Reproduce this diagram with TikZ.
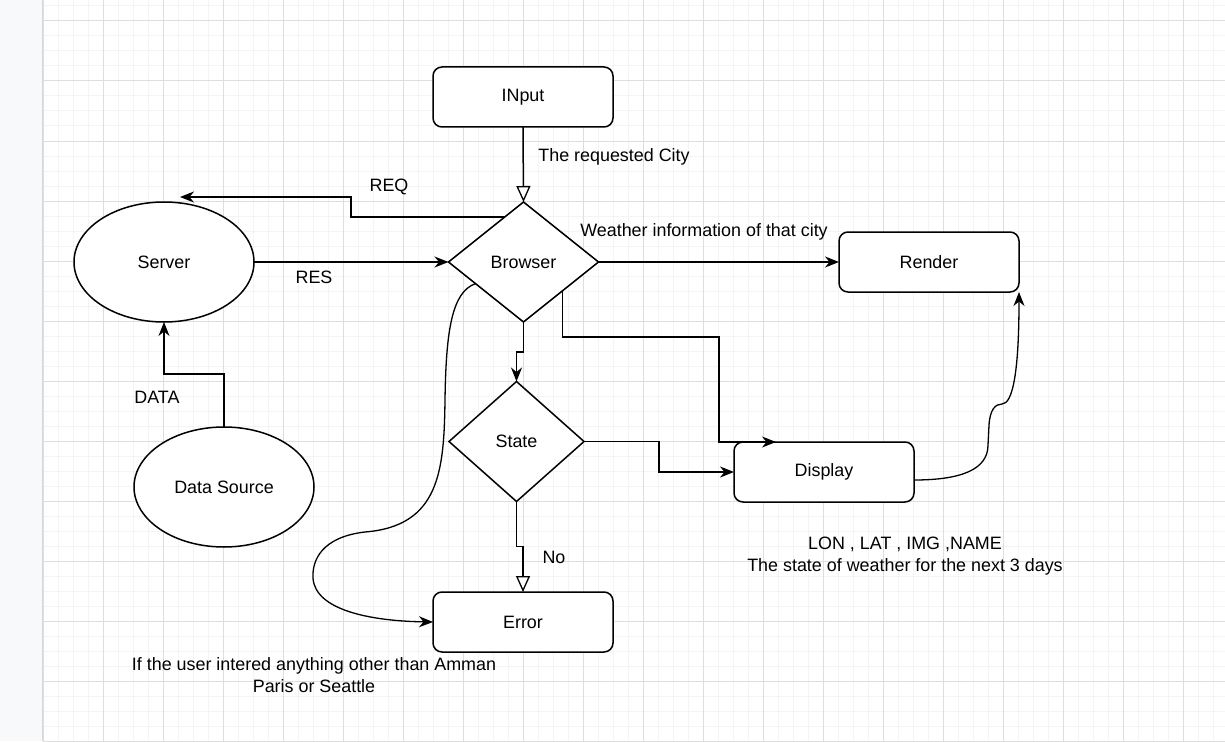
\documentclass[tikz,border=0pt]{standalone}
\usepackage{fontspec}
\setmainfont{Liberation Sans}
\usetikzlibrary{shapes.geometric,arrows.meta,calc}
\definecolor{panel}{HTML}{F8F9FA}
\definecolor{panelline}{HTML}{D6D8DB}
\definecolor{gminor}{HTML}{F4F4F4}
\definecolor{gmajor}{HTML}{DEDEDE}
\tikzset{
  txt/.style={font=\fontsize{17.9}{22}\selectfont, inner sep=0pt, text=black},
  rbox/.style={txt, draw=black, fill=white, line width=1.5pt, rounded corners=9pt,
    minimum width=180pt, minimum height=60pt, outer sep=0pt},
  dia/.style={txt, diamond, draw=black, fill=white, line width=1.5pt, outer sep=0pt},
  ell/.style={txt, ellipse, draw=black, fill=white, line width=1.5pt, outer sep=0pt,
    minimum width=180pt, minimum height=120pt},
  ln/.style={draw=black, line width=1.5pt},
  cv/.style={draw=black, line width=1.3pt},
  farrow/.style={-{Stealth[length=14pt,width=11pt,inset=4.5pt]}},
  oarrow/.style={-{Triangle[length=16pt,width=14pt,fill=white,line width=1.3pt]}},
  lbl/.style={txt, align=center}
}
\begin{document}
\begin{tikzpicture}[x=1pt,y=-1pt]
\useasboundingbox (0,0) rectangle (1225,741);
% background and grid
\fill[white] (0,0) rectangle (1225,741);
\fill[panel] (0,0) rectangle (42,741);
\foreach \gx in {43,58,...,1225} \draw[gminor, line width=1pt] (\gx,0) -- (\gx,741);
\foreach \gy in {6,21,...,741} \draw[gminor, line width=1pt] (43,\gy) -- (1225,\gy);
\foreach \gx in {43,103,...,1225} \draw[gmajor, line width=1pt] (\gx,0) -- (\gx,741);
\foreach \gy in {21,81,...,741} \draw[gmajor, line width=1pt] (43,\gy) -- (1225,\gy);
\draw[panelline, line width=1.5pt] (42.5,0) -- (42.5,741);

% nodes
\node[rbox] (inp) at (523,97) {INput};
\node[dia, minimum width=150pt, minimum height=120pt] (br) at (523.5,262) {Browser};
\node[ell] (sv) at (164,262) {Server};
\node[ell] (ds) at (224,487) {Data Source};
\node[rbox] (ren) at (929,262) {Render};
\node[dia, minimum width=135pt, minimum height=120pt] (st) at (516.5,441.5) {State};
\node[rbox] (disp) at (824,472) {Display};
\node[rbox] (err) at (523,622) {Error};

% labels
\node[lbl] (lcity) at (614,157) {The requested City};
\node[lbl] (lreq) at (389,187) {REQ};
\node[lbl] (lres) at (314,277) {RES};
\node[lbl] (lweather) at (704,232) {Weather information of that city};
\node[lbl] (ldata) at (157,397) {DATA};
\node[lbl] (lno) at (554,557) {No};
\node[lbl] (linfo) at (905,556) {LON , LAT , IMG ,NAME\\The state of weather for the next 3 days};
\node[lbl] (lerr) at (314,675) {If the user intered anything other than Amman\\Paris or Seattle};

% coordinates
\coordinate (reqstart) at ($(br.north)!0.25!(br.west)$);
\coordinate (reqend) at ($(sv.north)+(16,-5)$);
\coordinate (brlr) at ($(br.east)!0.48!(br.south)$);
\coordinate (brll) at ($(br.west)!0.36!(br.south)$);
\coordinate (dispend) at ($(disp.north west)+(42,0)$);
\coordinate (dispout) at ($(disp.east)+(0,8)$);

% connectors
\draw[ln, oarrow] (inp.south) -- (br.north);
\draw[ln, farrow] (reqstart) -- ++(-154,0) |- (reqend);
\draw[ln, farrow] (sv.east) -- (br.west);
\draw[ln, farrow] (br.east) -- (ren.west);
\draw[ln, farrow] (br.south) -- ++(0,30) -| (st.north);
\draw[ln, farrow] (brlr) -- ++(0,46) -| ($(dispend)+(-57,0)$) -- (dispend);
\draw[ln, farrow] (st.east) -- ++(75,0) |- (disp.west);
\draw[ln, oarrow] (st.south) -- ++(0,45) -| (err.north);
\draw[ln, farrow] (ds.north) -- ++(0,-53) -| (sv.south);
\draw[cv, farrow] (brll) .. controls (452,292) and (446,330) .. (445,400)
  .. controls (444,470) and (440,526) .. (365,532)
  .. controls (322,537) and (312,560) .. (313,578)
  .. controls (315,610) and (370,621) .. (err.west);
\draw[cv, farrow] (dispout) .. controls (960,480) and (988,470) .. (988,445)
  -- (989,425) .. controls (990,410) and (995,404) .. (1002,404)
  .. controls (1013,404) and (1019,370) .. (ren.south east);
\end{tikzpicture}
\end{document}
